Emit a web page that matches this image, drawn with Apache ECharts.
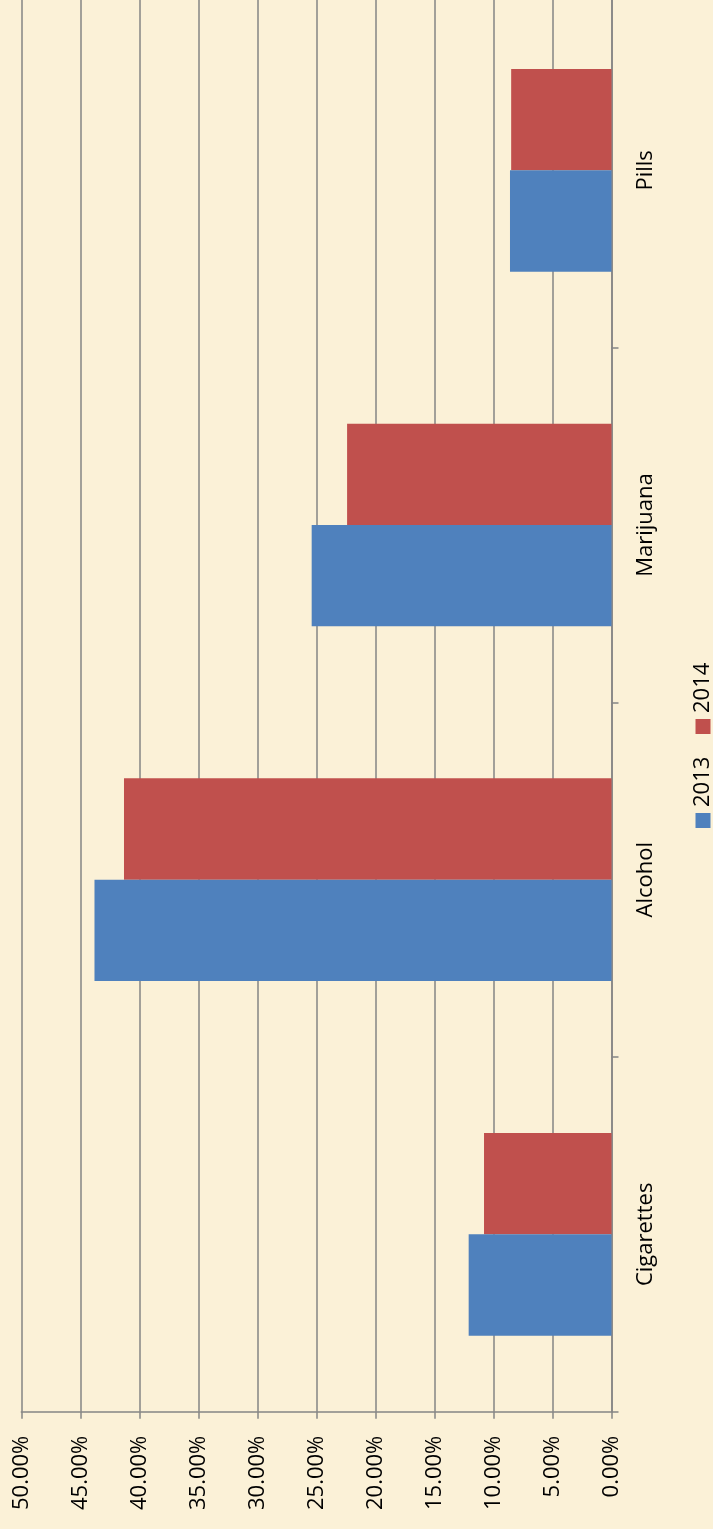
<!DOCTYPE html>
<html>
<head>
<meta charset="utf-8">
<script src="https://cdn.jsdelivr.net/npm/echarts@6/dist/echarts.min.js"></script>
<style>
  html, body { margin: 0; padding: 0; background: #fbf1d7; }
  #main { width: 713px; height: 1529px; }
</style>
</head>
<body>
<div id="main"></div>
<script>
// data (percent)
var categories = ['Cigarettes', 'Alcohol', 'Marijuana', 'Pills'];
var seriesNames = ['2013', '2014'];
var values2013 = [12.1, 43.8, 25.4, 8.6];
var values2014 = [10.8, 41.3, 22.4, 8.5];
var colors = ['#4f81bd', '#c0504d'];

var font = 'Open Sans';
var gridColor = '#858585';

var chart = echarts.init(document.getElementById('main'));

// legend drawn by hand, rotated like the rest of the chart
var legendItems = [];
var pos = 0;
seriesNames.forEach(function (name, i) {
    legendItems.push({
        type: 'rect',
        shape: { x: pos, y: -7.5, width: 15, height: 15 },
        style: { fill: colors[i] }
    });
    legendItems.push({
        type: 'text',
        x: pos + 21,
        y: 0,
        style: {
            text: name, fill: '#000', fontSize: 22, fontFamily: font,
            align: 'left', verticalAlign: 'middle'
        }
    });
    pos += 94;
});

var barStyle = { barGap: '0%', barCategoryGap: '42.86%' };

var option = {
    backgroundColor: '#fbf1d7',
    animation: false,
    // top band runs a few px past the top edge in the original
    grid: {
        left: 21.3, right: 101.5, top: -7, bottom: 117.3,
        containLabel: false, outerBoundsMode: 'none'
    },
    xAxis: {
        type: 'value',
        inverse: true,
        min: 0,
        max: 50,
        interval: 5,
        position: 'bottom',
        axisLine: { show: true, lineStyle: { color: gridColor, width: 1.5 } },
        axisTick: { show: true, length: 7, lineStyle: { color: gridColor, width: 1.5 } },
        splitLine: { show: true, lineStyle: { color: gridColor, width: 1.5 } },
        axisLabel: {
            rotate: 90,
            margin: 24,
            color: '#000',
            fontSize: 22,
            fontFamily: font,
            formatter: function (v) { return v.toFixed(2) + '%'; }
        }
    },
    yAxis: {
        type: 'category',
        data: categories,
        position: 'right',
        axisLine: { show: true, onZero: false, lineStyle: { color: gridColor, width: 1.5 } },
        axisTick: { show: true, length: 7, lineStyle: { color: gridColor, width: 1.5 } },
        splitLine: { show: false },
        axisLabel: {
            rotate: 90,
            margin: 23,
            color: '#000',
            fontSize: 22,
            fontFamily: font
        }
    },
    // 2014 listed first so that 2013 sits below it in each group
    series: [
        Object.assign({
            name: seriesNames[1],
            type: 'bar',
            data: values2014,
            itemStyle: { color: colors[1] }
        }, barStyle),
        Object.assign({
            name: seriesNames[0],
            type: 'bar',
            data: values2013,
            itemStyle: { color: colors[0] }
        }, barStyle)
    ],
    graphic: [
        {
            type: 'group',
            x: 703,
            y: 828,
            rotation: Math.PI / 2,
            children: legendItems
        }
    ]
};

chart.setOption(option);
</script>
</body>
</html>
